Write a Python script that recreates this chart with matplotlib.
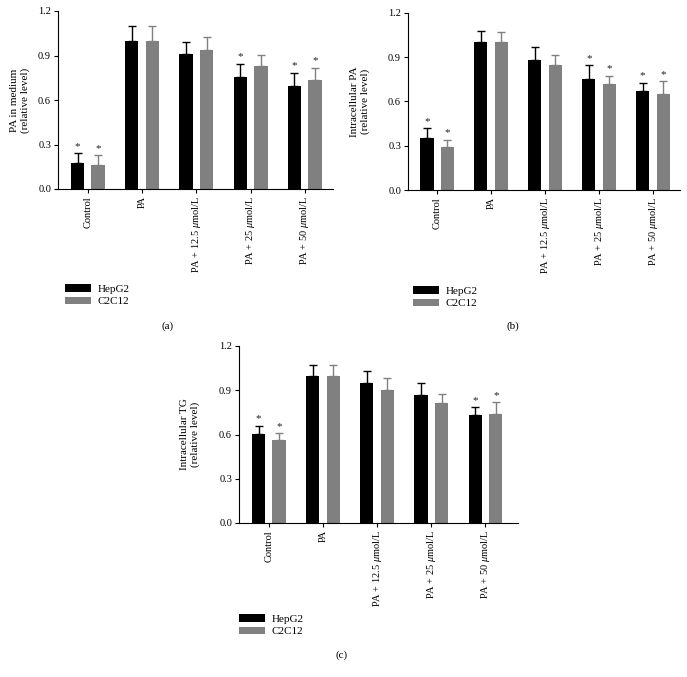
import matplotlib
matplotlib.use("Agg")
import matplotlib.pyplot as plt
from matplotlib.patches import Patch

plt.rcParams['font.family'] = ['Liberation Serif', 'DejaVu Serif']
plt.rcParams['mathtext.fontset'] = 'custom'
plt.rcParams['mathtext.rm'] = 'Liberation Serif'
plt.rcParams['mathtext.it'] = 'Liberation Serif:italic'

categories = ["Control", "PA", r"PA + 12.5 $\mu$mol/L", r"PA + 25 $\mu$mol/L", r"PA + 50 $\mu$mol/L"]
series = ["HepG2", "C2C12"]
colors = ["#000000", "#808080"]

# Panel (a): PA in medium
a_hep = [0.173, 1.0, 0.91, 0.753, 0.692]
a_hep_err = [0.067, 0.099, 0.083, 0.092, 0.092]
a_c2c = [0.162, 1.0, 0.937, 0.831, 0.733]
a_c2c_err = [0.065, 0.099, 0.085, 0.072, 0.085]
a_star_hep = [True, False, False, True, True]
a_star_c2c = [True, False, False, False, True]

# Panel (b): Intracellular PA
b_hep = [0.35, 1.0, 0.877, 0.753, 0.668]
b_hep_err = [0.067, 0.076, 0.093, 0.091, 0.059]
b_c2c = [0.291, 1.0, 0.843, 0.72, 0.652]
b_c2c_err = [0.05, 0.067, 0.068, 0.054, 0.083]
b_star_hep = [True, False, False, True, True]
b_star_c2c = [True, False, False, True, True]

# Panel (c): Intracellular TG
c_hep = [0.602, 1.0, 0.952, 0.866, 0.729]
c_hep_err = [0.059, 0.069, 0.081, 0.081, 0.056]
c_c2c = [0.564, 1.0, 0.905, 0.814, 0.738]
c_c2c_err = [0.043, 0.069, 0.076, 0.061, 0.083]
c_star_hep = [True, False, False, False, True]
c_star_c2c = [True, False, False, False, True]

yticks = [0.0, 0.3, 0.6, 0.9, 1.2]

W, H = 687, 677
fig = plt.figure(figsize=(W / 100, H / 100), dpi=100)


def panel(rect_px, hep, hep_err, c2c, c2c_err, s_hep, s_c2c, ylabel, xlim, leg_xy, tag, tag_xy, ylab_x):
    l, t, r, b = rect_px
    ax = fig.add_axes([l / W, 1 - b / H, (r - l) / W, (b - t) / H])
    x = list(range(len(categories)))
    bw = 0.245
    off = 0.19
    for vals, errs, stars, col, sgn in [(hep, hep_err, s_hep, colors[0], -1), (c2c, c2c_err, s_c2c, colors[1], 1)]:
        xs = [xi + sgn * off for xi in x]
        ax.bar(xs, vals, width=bw, color=col, zorder=2)
        ax.errorbar(xs, vals, yerr=[[0] * len(vals), errs], fmt='none', ecolor=col,
                    elinewidth=1.0, capsize=2.6, capthick=1.0, zorder=1)
        for xi, v, e, s in zip(xs, vals, errs, stars):
            if s:
                ax.text(xi, v + e + 0.015, "*", ha='center', va='bottom', fontsize=8, color='#222222')
    ax.set_xlim(*xlim)
    ax.set_ylim(0, 1.2)
    ax.set_yticks(yticks)
    ax.set_yticklabels([f"{v:.1f}" for v in yticks], fontsize=7.5)
    ax.set_xticks(x)
    ax.set_xticklabels(categories, rotation=90, fontsize=7.5)
    ax.tick_params(axis='both', length=3, width=0.8, direction='out', pad=2)
    for sp in ['top', 'right']:
        ax.spines[sp].set_visible(False)
    for sp in ['left', 'bottom']:
        ax.spines[sp].set_linewidth(0.8)
    fig.text(ylab_x / W, 1 - ((t + b) / 2) / H, ylabel, rotation=90, ha='center', va='center',
             fontsize=8, linespacing=1.3)
    handles = [Patch(facecolor=colors[0]), Patch(facecolor=colors[1])]
    fig.legend(handles, series, loc='upper left', bbox_to_anchor=(leg_xy[0] / W, 1 - leg_xy[1] / H),
               frameon=False, fontsize=8, handlelength=2.3, handleheight=0.7, handletextpad=0.6,
               labelspacing=0.25, borderaxespad=0, borderpad=0)
    fig.text(tag_xy[0] / W, 1 - tag_xy[1] / H, tag, ha='center', va='center', fontsize=8)
    return ax


panel((58, 11, 333, 189), a_hep, a_hep_err, a_c2c, a_c2c_err, a_star_hep, a_star_c2c,
      "PA in medium\n(relative level)", (-0.55, 4.52), (65, 284), "(a)", (168, 326), 20)
panel((408, 12.7, 680, 190), b_hep, b_hep_err, b_c2c, b_c2c_err, b_star_hep, b_star_c2c,
      "Intracellular PA\n(relative level)", (-0.54, 4.5), (413, 286), "(b)", (513, 326), 360)
panel((239, 346, 518, 523), c_hep, c_hep_err, c_c2c, c_c2c_err, c_star_hep, c_star_c2c,
      "Intracellular TG\n(relative level)", (-0.55, 4.6), (239, 614), "(c)", (342, 655), 190)

fig.savefig("out.png", dpi=100)
